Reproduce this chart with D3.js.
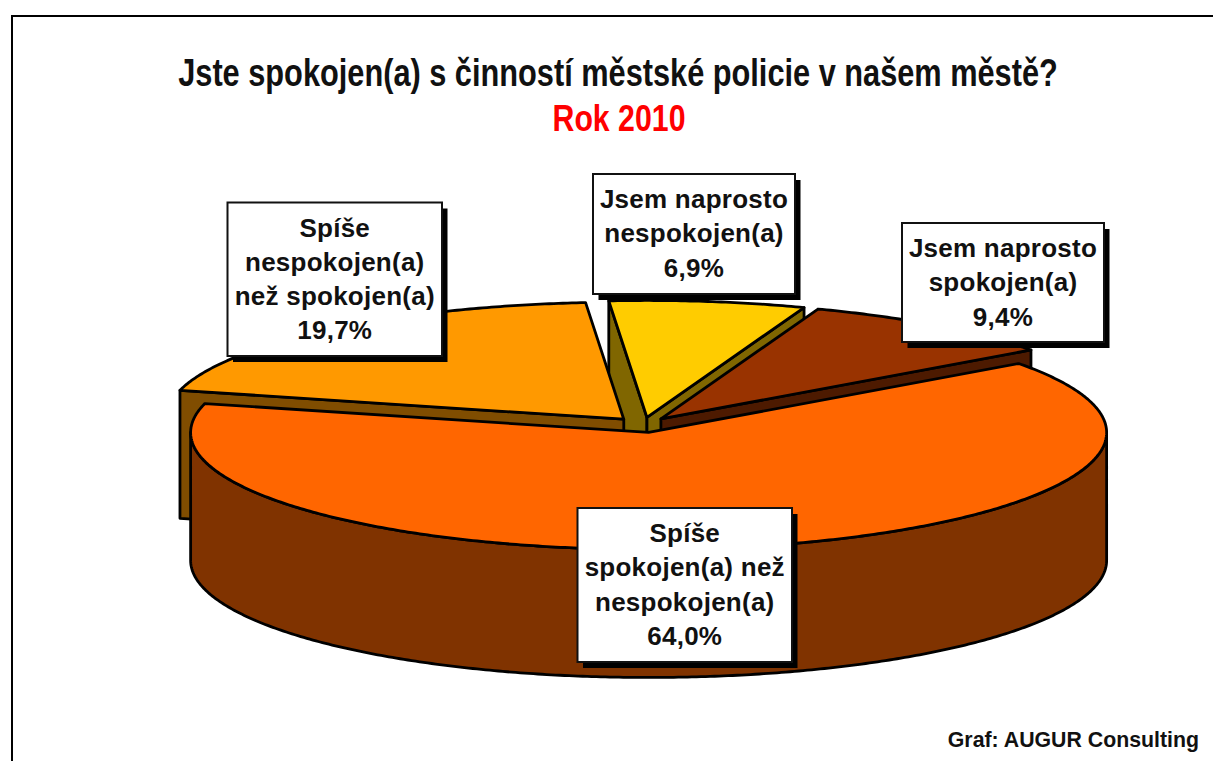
<!DOCTYPE html>
<html><head><meta charset="utf-8">
<style>html,body{margin:0;padding:0;background:#fff;overflow:hidden}svg{display:block}text{font-family:"Liberation Sans",Arial,sans-serif;font-weight:bold}</style>
<script src="https://cdn.jsdelivr.net/npm/d3@7"></script>
</head><body>
<script>
const titleText = "Jste spokojen(a) s činností městské policie v našem městě?";
const subtitleText = "Rok 2010";
const creditText = "Graf: AUGUR Consulting";
const categories = ["Spíše spokojen(a) než nespokojen(a)","Spíše nespokojen(a) než spokojen(a)","Jsem naprosto nespokojen(a)","Jsem naprosto spokojen(a)"];
const values = [64.0, 19.7, 6.9, 9.4];
const labelLines = [["Spíše","spokojen(a) než","nespokojen(a)"],["Spíše","nespokojen(a)","než spokojen(a)"],["Jsem naprosto","nespokojen(a)"],["Jsem naprosto","spokojen(a)"]];
const topColors = ["#FF6600","#FF9900","#FFCC00","#993300"];

// layout, separate from the data
const W=1213,H=761;
const labelBoxes=[{x:577.5,y:508,w:214.5,h:154},{x:227.5,y:202.5,w:214.5,h:153.5},{x:593,y:174,w:202,h:120},{x:902,y:223,w:202,h:119}];
const paintOrder=[2,3,1,0];
const cx=643,cy=425,rx=458,ry=117,depth=128,explode=0.065;
const startDeg=53.9;

const svg=d3.select("body").append("svg").attr("width",W).attr("height",H);
const sx=d3.scaleLinear().domain([-1,1]).range([-rx,rx]);
const sy=d3.scaleLinear().domain([-1,1]).range([ry,-ry]);
const pie=d3.pie().sort(null).startAngle(startDeg*Math.PI/180).endAngle((startDeg+360)*Math.PI/180);
const arcs=pie(values);
const line=d3.line().x(d=>d[0]).y(d=>d[1]);

svg.append("path").attr("d",line([[12,H],[12,16],[W,16]])).attr("fill","none").attr("stroke","#000").attr("stroke-width",2);

function sideColor(c){const r=d3.rgb(c);return d3.rgb(r.r/2,r.g/2,r.b/2).formatHex();}
const pieG=svg.append("g");
paintOrder.forEach(i=>{
  const a=arcs[i],mid=(a.startAngle+a.endAngle)/2;
  const ox=cx+explode*sx(Math.sin(mid)),oy=cy+explode*sy(Math.cos(mid));
  const P=t=>[ox+sx(Math.sin(t)),oy+sy(Math.cos(t))];
  const down=p=>[p[0],p[1]+depth];
  const apex=[ox,oy];
  const sweep=(t0,t1)=>{const n=Math.max(2,Math.ceil((t1-t0)/0.01));return d3.range(n+1).map(k=>P(t0+(t1-t0)*k/n));};
  const g=pieG.append("g");
  const side=sideColor(topColors[i]);
  const style=s=>s.attr("stroke","#000").attr("stroke-width",2.8).attr("stroke-linejoin","round");
  [[a.startAngle,-Math.PI/2],[a.endAngle,Math.PI/2]].forEach(([t,off])=>{
    if(Math.cos(t+off)<0){
      const p=P(t);
      style(g.append("path").attr("d",line([apex,p,down(p),down(apex)])+"Z").attr("fill",side));
    }
  });
  const f0=Math.max(a.startAngle,Math.PI/2),f1=Math.min(a.endAngle,3*Math.PI/2);
  if(f1>f0){
    const s=sweep(f0,f1);
    style(g.append("path").attr("d",line(s.concat(s.slice().reverse().map(down)))+"Z").attr("fill",side));
  }
  style(g.append("path").attr("d",line([apex].concat(sweep(a.startAngle,a.endAngle)))+"Z").attr("fill",topColors[i]));
});

const lab=svg.append("g");
values.forEach((v,i)=>{
  const b=labelBoxes[i];
  const g=lab.append("g");
  g.append("rect").attr("x",b.x+5.5).attr("y",b.y+6).attr("width",b.w).attr("height",b.h).attr("fill","#000");
  g.append("rect").attr("x",b.x).attr("y",b.y).attr("width",b.w).attr("height",b.h).attr("fill","#fff").attr("stroke","#111").attr("stroke-width",2);
  const lines=labelLines[i].concat([v.toFixed(1).replace(".",",")+"%"]);
  const lh=34.3,y0=b.y+34;
  lines.forEach((t,k)=>g.append("text").attr("x",b.x+b.w/2).attr("y",y0+k*lh).attr("text-anchor","middle").attr("font-size",26).attr("letter-spacing",0.25).attr("fill","#111").text(t));
});

// condensed headline: measured, then squeezed horizontally to the reference's width
function squeezed(str,x,y,size,width,fill){
  const t=svg.append("text").attr("text-anchor","middle").attr("font-size",size).attr("fill",fill).text(str);
  const k=width/t.node().getComputedTextLength();
  t.attr("transform",`translate(${x},${y}) scale(${k},1)`);
}
squeezed(titleText,618,86,38,880,"#111");
squeezed(subtitleText,619,131,37,133,"#f00");
svg.append("text").attr("x",1199).attr("y",747).attr("text-anchor","end").attr("font-size",21.3).attr("fill","#111").text(creditText);
</script>
</body></html>
